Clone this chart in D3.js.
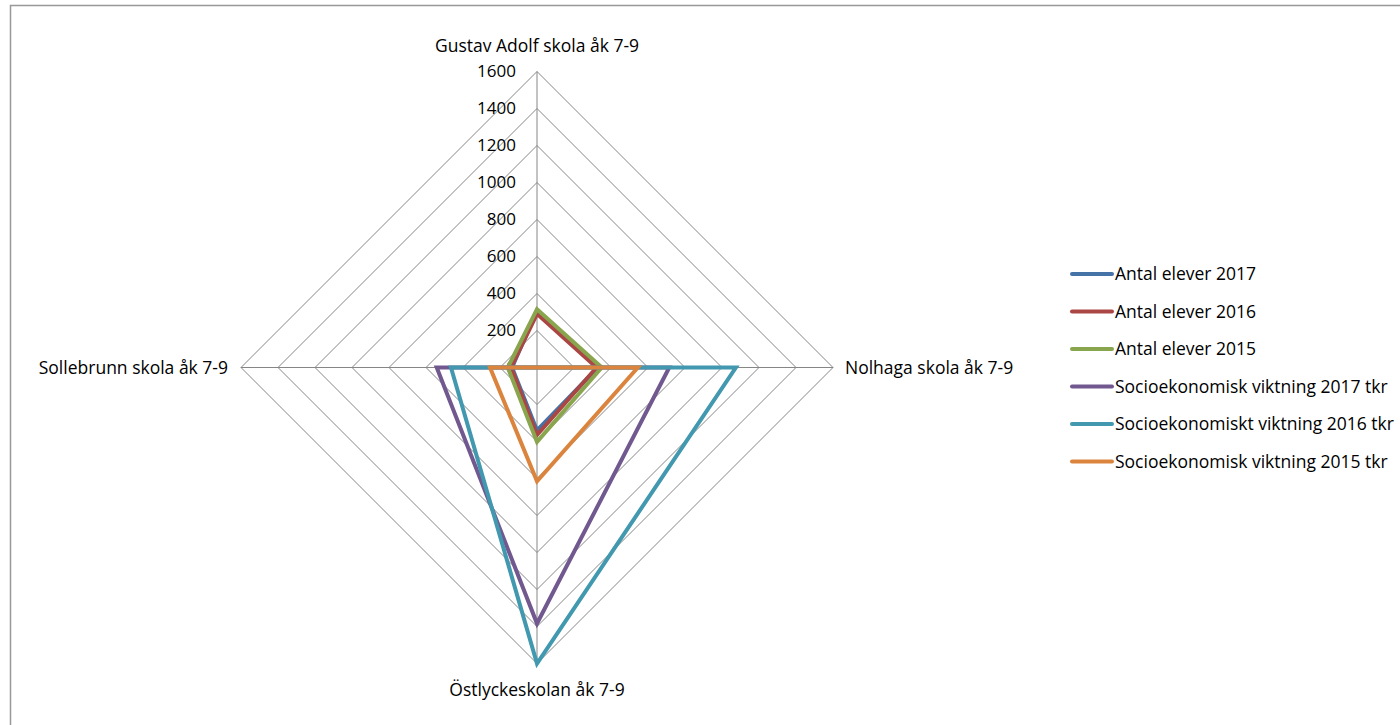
<!DOCTYPE html>
<html><head><meta charset="utf-8">
<script src="https://cdn.jsdelivr.net/npm/d3@7"></script>
<style>body{margin:0;background:#fff}svg{display:block}text{font-family:"Open Sans","Noto Sans",sans-serif;fill:#000}</style>
</head><body><svg id="c" width="1400" height="725"></svg>
<script>
const categories = ["Gustav Adolf skola åk 7-9","Nolhaga skola åk 7-9","Östlyckeskolan åk 7-9","Sollebrunn skola åk 7-9"];
const seriesNames = ["Antal elever 2017","Antal elever 2016","Antal elever 2015","Socioekonomisk viktning 2017 tkr","Socioekonomiskt viktning 2016 tkr","Socioekonomisk viktning 2015 tkr"];
const antal2017 = [310, 330, 340, 135];
const antal2016 = [290, 322, 365, 140];
const antal2015 = [315, 350, 402, 158];
const socio2017 = [0, 715, 1384, 542];
const socio2016 = [0, 1075, 1600, 465];
const socio2015 = [0, 545, 615, 254];
const tickValues = [0,200,400,600,800,1000,1200,1400,1600];
const colors = ["#4572A7","#AA4643","#89A54E","#71588F","#4198AF","#DB843D"];
const seriesValues = [antal2017, antal2016, antal2015, socio2017, socio2016, socio2015];

const svg = d3.select("#c");
svg.append("rect").attr("x",10.5).attr("y",5.5).attr("width",1400).attr("height",730)
  .attr("fill","none").attr("stroke","#999").attr("stroke-width",1.5);

const cx = 537, cy = 367.5, R = 296;
const r = d3.scaleLinear().domain([0,1600]).range([0,R]);
const angle = d3.scalePoint().domain(categories).range([0, 2*Math.PI*3/4]);
const pt = (cat, v) => { const a = angle(cat); return [cx + r(v)*Math.sin(a), cy - r(v)*Math.cos(a)]; };

const g = svg.append("g");
tickValues.slice(1).forEach(t => {
  g.append("path").attr("d", d3.line()(categories.map(c => pt(c,t))) + "Z")
    .attr("fill","none").attr("stroke","#868686").attr("stroke-width",1);
});
categories.forEach(c => {
  const p = pt(c,1600);
  g.append("line").attr("x1",cx).attr("y1",cy).attr("x2",p[0]).attr("y2",p[1])
    .attr("stroke","#868686").attr("stroke-width",1);
});
tickValues.forEach(t => {
  g.append("text").attr("x", cx-21).attr("y", cy - r(t)).attr("dy","0.35em")
    .attr("text-anchor","end").attr("font-size",17).text(t);
});
seriesValues.forEach((vals,i) => {
  g.append("path").attr("d", d3.line()(categories.map((c,j)=>pt(c,vals[j]))) + "Z")
    .attr("fill","none").attr("stroke",colors[i]).attr("stroke-width",4).attr("stroke-linejoin","miter");
});
const lab = [[cx, 46, "middle"],[845, cy, "start"],[cx, 690, "middle"],[228, cy, "end"]];
categories.forEach((c,i) => {
  g.append("text").attr("x",lab[i][0]).attr("y",lab[i][1]).attr("dy","0.35em")
   .attr("text-anchor",lab[i][2]).attr("font-size",17.5).text(c);
});
const leg = svg.append("g");
seriesNames.forEach((n,i) => {
  const y = 274 + i*37.5;
  leg.append("line").attr("x1",1072).attr("x2",1112).attr("y1",y).attr("y2",y)
    .attr("stroke",colors[i]).attr("stroke-width",4).attr("stroke-linecap","round");
  leg.append("text").attr("x",1115).attr("y",y).attr("dy","0.35em").attr("font-size",17.5).text(n);
});
</script></body></html>
